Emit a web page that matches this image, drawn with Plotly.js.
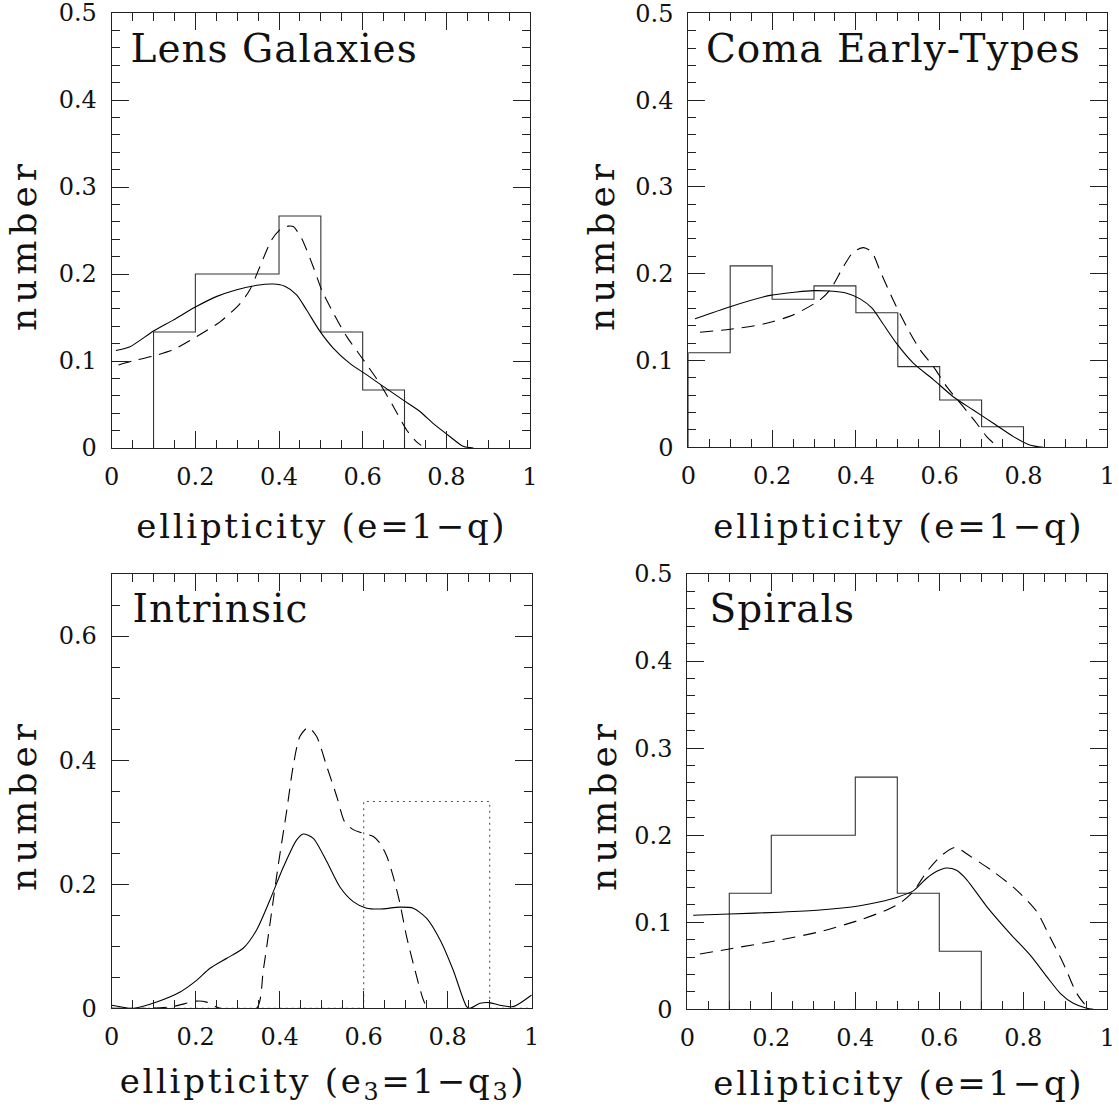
<!DOCTYPE html>
<html><head><meta charset="utf-8">
<script src="https://cdn.plot.ly/plotly-3.0.1.min.js"></script>
<style>
body{margin:0;background:#fff}
.annotation[data-index="0"] .annotation-text,
.annotation[data-index="1"] .annotation-text,
.annotation[data-index="2"] .annotation-text,
.annotation[data-index="3"] .annotation-text{letter-spacing:1px}
.annotation[data-index="4"] .annotation-text,
.annotation[data-index="5"] .annotation-text,
.annotation[data-index="6"] .annotation-text,
.annotation[data-index="7"] .annotation-text{letter-spacing:2.7px}
.annotation[data-index="8"] .annotation-text,
.annotation[data-index="9"] .annotation-text,
.annotation[data-index="10"] .annotation-text,
.annotation[data-index="11"] .annotation-text{letter-spacing:5px}
</style>
</head><body><div id="chart" style="width:1119px;height:1108px"></div>
<script>
// ---------- data ----------
const binEdges = [0, 0.1, 0.2, 0.3, 0.4, 0.5, 0.6, 0.7, 0.8, 0.9, 1.0];
const lensHist = [0, 2/15, 3/15, 3/15, 4/15, 2/15, 1/15, 0, 0, 0];
const comaHist = [0.109, 0.209, 0.1705, 0.186, 0.155, 0.093, 0.0545, 0.0237, 0, 0];
const spiralHist = [0, 2/15, 3/15, 3/15, 4/15, 2/15, 1/15, 0, 0, 0];
const intrinsicUniform = [0, 0, 0, 0, 0, 0, 1/3, 1/3, 1/3, 0];

const lensSolidX = [0.01, 0.044, 0.1, 0.147, 0.2, 0.25, 0.299, 0.347, 0.386, 0.414, 0.442, 0.466, 0.498, 0.53, 0.57, 0.61, 0.65, 0.697, 0.737, 0.769, 0.809, 0.84, 0.865];
const lensSolidY = [0.112, 0.1165, 0.1345, 0.147, 0.162, 0.174, 0.182, 0.187, 0.1885, 0.186, 0.176, 0.1586, 0.134, 0.1146, 0.097, 0.084, 0.0705, 0.055, 0.042, 0.028, 0.013, 0.002, 0];
const lensDashX = [0.016, 0.052, 0.1, 0.147, 0.203, 0.259, 0.306, 0.33, 0.354, 0.382, 0.406, 0.422, 0.434, 0.454, 0.482, 0.502, 0.53, 0.562, 0.602, 0.641, 0.673, 0.705, 0.729, 0.74];
const lensDashY = [0.0954, 0.1004, 0.1057, 0.113, 0.128, 0.145, 0.1655, 0.1816, 0.208, 0.239, 0.2525, 0.255, 0.2545, 0.241, 0.208, 0.1816, 0.155, 0.128, 0.101, 0.074, 0.048, 0.0207, 0.007, 0.003];

const comaSolidX = [0.016, 0.1, 0.195, 0.259, 0.298, 0.338, 0.378, 0.41, 0.438, 0.465, 0.497, 0.537, 0.585, 0.633, 0.68, 0.728, 0.776, 0.815, 0.847];
const comaSolidY = [0.148, 0.162, 0.175, 0.179, 0.1805, 0.18, 0.1775, 0.171, 0.1605, 0.142, 0.1197, 0.097, 0.078, 0.058, 0.043, 0.0277, 0.0123, 0.0027, 0];
const comaDashX = [0.028, 0.1, 0.179, 0.25, 0.314, 0.338, 0.37, 0.394, 0.418, 0.438, 0.457, 0.489, 0.521, 0.553, 0.585, 0.617, 0.656, 0.688, 0.712, 0.728];
const comaDashY = [0.1325, 0.136, 0.142, 0.1524, 0.1697, 0.181, 0.208, 0.225, 0.23, 0.225, 0.204, 0.1697, 0.139, 0.1125, 0.093, 0.0696, 0.0469, 0.0277, 0.0123, 0.005];

const intrSolidX = [0, 0.0516, 0.107, 0.163, 0.202, 0.234, 0.274, 0.313, 0.345, 0.377, 0.409, 0.44, 0.456, 0.48, 0.512, 0.543, 0.575, 0.607, 0.639, 0.686, 0.718, 0.75, 0.782, 0.813, 0.845, 0.853, 0.877, 0.9, 0.924, 0.956, 1.0];
const intrSolidY = [0.005, 0, 0.0102, 0.0263, 0.045, 0.0645, 0.0806, 0.0968, 0.1263, 0.175, 0.228, 0.271, 0.281, 0.274, 0.2366, 0.196, 0.172, 0.1613, 0.16, 0.163, 0.1613, 0.145, 0.1102, 0.0618, 0.0027, 0, 0.008, 0.0092, 0.005, 0.0027, 0.0215];
const intrDashX = [0, 0.09, 0.147, 0.202, 0.226, 0.258, 0.345, 0.361, 0.377, 0.397, 0.417, 0.432, 0.448, 0.468, 0.488, 0.512, 0.536, 0.555, 0.575, 0.599, 0.623, 0.639, 0.655, 0.67, 0.686, 0.702, 0.722, 0.742, 0.754, 1.0];
const intrDashY = [0, 0, 0.003, 0.0116, 0.01, 0, 0, 0.0618, 0.137, 0.233, 0.32, 0.39, 0.438, 0.453, 0.438, 0.39, 0.341, 0.3, 0.288, 0.282, 0.277, 0.266, 0.245, 0.213, 0.17, 0.116, 0.0618, 0.0137, 0, 0];

const spirSolidX = [0.014, 0.1, 0.221, 0.316, 0.411, 0.459, 0.498, 0.538, 0.57, 0.594, 0.617, 0.641, 0.665, 0.713, 0.768, 0.816, 0.856, 0.888, 0.919, 0.951, 0.967];
const spirSolidY = [0.108, 0.1095, 0.1115, 0.114, 0.119, 0.1235, 0.1285, 0.136, 0.1505, 0.1585, 0.1623, 0.1596, 0.149, 0.118, 0.0873, 0.0624, 0.0375, 0.0184, 0.0069, 0.0012, 0];
const spirDashX = [0.03, 0.1, 0.221, 0.316, 0.411, 0.475, 0.506, 0.538, 0.57, 0.602, 0.637, 0.673, 0.729, 0.784, 0.832, 0.863, 0.895, 0.927, 0.951, 0.959];
const spirDashY = [0.0635, 0.0693, 0.0796, 0.0892, 0.1026, 0.1141, 0.1218, 0.1352, 0.158, 0.1753, 0.186, 0.176, 0.158, 0.137, 0.1123, 0.0835, 0.053, 0.0184, 0.003, 0];

const panelLabels = ["Lens Galaxies", "Coma Early-Types", "Intrinsic", "Spirals"];
const xTitles = ["ellipticity (e=1\u2212q)", "ellipticity (e=1\u2212q)", "ellipticity (e<sub>3</sub>=1\u2212q<sub>3</sub>)", "ellipticity (e=1\u2212q)"];
const yTitle = "number";

// ---------- helpers ----------
function stepLine(edges, vals, trim) {
  let first = 0, last = vals.length - 1;
  if (trim) {
    while (first < vals.length && vals[first] === 0) first++;
    while (last > 0 && vals[last] === 0) last--;
  }
  const xs = [edges[first]], ys = [0];
  for (let i = first; i <= last; i++) {
    xs.push(edges[i], edges[i + 1]);
    ys.push(vals[i], vals[i]);
  }
  xs.push(edges[last + 1]); ys.push(0);
  return {x: xs, y: ys};
}

const FONT = "DejaVu Serif";
const histColor = "#333";
const dashStyle = "13px,8px";

function line(xa, ya, xs, ys, dash, color, smooth) {
  const ln = {color: color || "#000", width: 1.1, dash: dash || "solid"};
  if (smooth) { ln.shape = "spline"; ln.smoothing = 0.7; }
  return {type: "scatter", mode: "lines", x: xs, y: ys, xaxis: xa, yaxis: ya,
    line: ln, hoverinfo: "skip", showlegend: false};
}

const traces = [];
let h;
h = stepLine(binEdges, lensHist, true);
traces.push(line("x", "y", h.x, h.y, "solid", histColor));
traces.push(line("x", "y", lensSolidX, lensSolidY, "solid", "#000", true));
traces.push(line("x", "y", lensDashX, lensDashY, dashStyle, "#000", true));

h = stepLine(binEdges, comaHist, true);
traces.push(line("x2", "y2", h.x, h.y, "solid", histColor));
traces.push(line("x2", "y2", comaSolidX, comaSolidY, "solid", "#000", true));
traces.push(line("x2", "y2", comaDashX, comaDashY, dashStyle, "#000", true));

h = stepLine(binEdges, intrinsicUniform, false);
traces.push(line("x3", "y3", h.x, h.y, "2px,4px", "#555"));
traces.push(line("x3", "y3", intrSolidX, intrSolidY, "solid", "#000", true));
traces.push(line("x3", "y3", intrDashX, intrDashY, dashStyle, "#000", true));

h = stepLine(binEdges, spiralHist, true);
traces.push(line("x4", "y4", h.x, h.y, "solid", histColor));
traces.push(line("x4", "y4", spirSolidX, spirSolidY, "solid", "#000", true));
traces.push(line("x4", "y4", spirDashX, spirDashY, dashStyle, "#000", true));

const W = 1119, H = 1108;
function px(v) { return v / W; }
function py(v) { return 1 - v / H; }

function xAxis(d0, d1, anchor) {
  return {domain: [px(d0), px(d1)], anchor: anchor, range: [0, 1], dtick: 0.2, tick0: 0,
    ticks: "inside", ticklen: 17, tickwidth: 1, tickcolor: "#222",
    minor: {dtick: 0.05, ticks: "inside", ticklen: 8, tickwidth: 1, tickcolor: "#222"},
    showline: true, linecolor: "#222", linewidth: 1, mirror: "allticks",
    showgrid: false, zeroline: false, ticklabelstandoff: 7, ticklabeloverflow: "allow",
    tickfont: {family: FONT, size: 24, color: "#111"}};
}
function yAxis(d0, d1, anchor, top, dt, mdt) {
  return {domain: [py(d1), py(d0)], anchor: anchor, range: [0, top], dtick: dt, tick0: 0,
    ticks: "inside", ticklen: 17, tickwidth: 1, tickcolor: "#222",
    minor: {dtick: mdt, ticks: "inside", ticklen: 8, tickwidth: 1, tickcolor: "#222"},
    showline: true, linecolor: "#222", linewidth: 1, mirror: "allticks",
    showgrid: false, zeroline: false, ticklabelstandoff: 9, ticklabeloverflow: "allow",
    tickfont: {family: FONT, size: 24, color: "#111"}};
}

const annotations = [];
const labelPos = [[135, 48.5], [712, 48.5], [135, 608], [711, 608]];
panelLabels.forEach((t, i) => annotations.push({text: t, xref: "paper", yref: "paper",
  x: px(labelPos[i][0]), y: py(labelPos[i][1]), xanchor: "left", yanchor: "middle",
  showarrow: false, font: {family: FONT, size: 39, color: "#111"}}));
const xtPos = [[322, 526], [899, 526], [323, 1083], [899, 1083]];
xTitles.forEach((t, i) => annotations.push({text: t, xref: "paper", yref: "paper",
  x: px(xtPos[i][0]), y: py(xtPos[i][1]), xanchor: "center", yanchor: "middle",
  showarrow: false, font: {family: FONT, size: 34, color: "#111"}}));
const ytPos = [[23, 245], [601, 245], [23, 805], [603, 805]];
ytPos.forEach(p => annotations.push({text: yTitle, xref: "paper", yref: "paper",
  x: px(p[0]), y: py(p[1]), xanchor: "center", yanchor: "middle", textangle: -90,
  showarrow: false, font: {family: FONT, size: 36, color: "#111"}}));

const layout = {
  width: W, height: H, margin: {l: 0, r: 0, t: 0, b: 0},
  paper_bgcolor: "#fff", plot_bgcolor: "#fff", showlegend: false,
  xaxis: xAxis(111.7, 530, "y"),
  yaxis: yAxis(13, 448, "x", 0.5, 0.1, 0.02),
  xaxis2: xAxis(688.3, 1107.3, "y2"),
  yaxis2: yAxis(13.3, 447.3, "x2", 0.5, 0.1, 0.02),
  xaxis3: xAxis(111.7, 531.7, "y3"),
  yaxis3: yAxis(574, 1008.3, "x3", 0.7, 0.2, 0.05),
  xaxis4: xAxis(687.3, 1107.3, "y4"),
  yaxis4: yAxis(574, 1009.3, "x4", 0.5, 0.1, 0.02),
  annotations: annotations
};

Plotly.newPlot("chart", traces, layout, {staticPlot: true, displayModeBar: false});
</script></body></html>
